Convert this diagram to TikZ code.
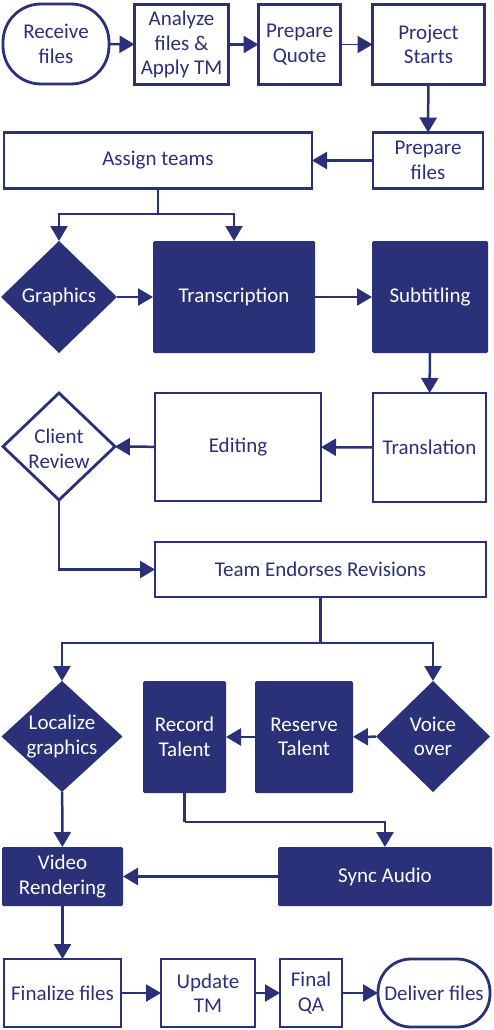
\documentclass[tikz,border=0pt]{standalone}
\usepackage{fontspec}
\setmainfont{Carlito}
\usetikzlibrary{shapes.geometric,arrows.meta}
\definecolor{navy}{RGB}{43,49,121}
\begin{document}
\begin{tikzpicture}[x=1pt,y=-1pt,
  font=\fontsize{21}{24.5}\selectfont,
  every node/.style={inner sep=0pt,outer sep=0pt,align=center},
  wbox/.style={draw=navy,line width=2.8pt,fill=white,text=navy,rectangle},
  fbox/.style={fill=navy,text=white,rectangle,rounded corners=1.5pt},
  term/.style={draw=navy,line width=2.8pt,fill=white,text=navy,rectangle,rounded corners=#1},
  wdiam/.style={draw=navy,line width=2.8pt,fill=white,diamond,aspect=1},
  fdiam/.style={fill=navy,diamond,aspect=1},
  wtext/.style={text=navy},
  ftext/.style={text=white},
  conn/.style={draw=navy,line width=2.5pt,-{Triangle[length=15pt,width=17pt]}},
  plain/.style={draw=navy,line width=2.5pt}]
\useasboundingbox (0,0) rectangle (494,1030);
% row 1
\node[term=38pt,minimum width=106pt,minimum height=80pt] (recv) at (56,44) {Receive\\files};
\node[wbox,minimum width=94pt,minimum height=80pt] (ana) at (181.5,44.5) {Analyze\\files \&\\Apply TM};
\node[wbox,minimum width=82pt,minimum height=80pt] (quote) at (299.5,44.5) {Prepare\\Quote};
\node[wbox,minimum width=112pt,minimum height=80pt] (proj) at (428.5,44.5) {Project\\Starts};
% row 2
\node[wbox,minimum width=110pt,minimum height=56pt] (prepf) at (428,160.5) {Prepare\\files};
\node[wbox,minimum width=308pt,minimum height=56pt] (assign) at (158,160.5) {Assign teams};
% row 3
\node[fdiam,minimum width=116pt,minimum height=112pt] (graph) at (59,297) {};
\node[ftext] (grapht) at (graph) {Graphics};
\node[fbox,minimum width=162pt,minimum height=112pt] (trans) at (234,297) {Transcription};
\node[fbox,minimum width=116pt,minimum height=112pt] (subt) at (430,297) {Subtitling};
% row 4
\node[wbox,minimum width=113pt,minimum height=109pt] (transl) at (429.5,447.5) {Translation};
\node[wbox,minimum width=166pt,minimum height=108pt] (edit) at (238,447) {Editing};
\node[wdiam,minimum width=112pt,minimum height=107pt] (client) at (59,446.5) {};
\node[wtext] (clientt) at (59,449) {Client\\Review};
% row 5
\node[wbox,minimum width=331pt,minimum height=55pt] (team) at (320.5,569.5) {Team Endorses Revisions};
% row 6
\node[fdiam,minimum width=121pt,minimum height=111pt] (local) at (62,736.5) {};
\node[ftext] (localt) at (local) {Localize\\graphics};
\node[fbox,minimum width=83pt,minimum height=112pt] (record) at (184.5,737) {Record\\Talent};
\node[fbox,minimum width=98pt,minimum height=112pt] (reserve) at (304,737) {Reserve\\Talent};
\node[fdiam,minimum width=114pt,minimum height=111pt] (voice) at (433,736.5) {};
\node[ftext] (voicet) at (voice) {Voice\\over};
% row 7
\node[fbox,minimum width=121pt,minimum height=59pt] (video) at (62.5,876.5) {Video\\Rendering};
\node[fbox,minimum width=214pt,minimum height=59pt] (sync) at (385,876.5) {Sync Audio};
% row 8
\node[wbox,minimum width=117pt,minimum height=68pt] (final) at (62.5,993) {Finalize files};
\node[wbox,minimum width=94pt,minimum height=68pt] (update) at (208,993) {Update\\TM};
\node[wbox,minimum width=62pt,minimum height=68pt] (qa) at (311,993) {Final\\QA};
\node[term=33pt,minimum width=112pt,minimum height=68pt] (deliver) at (434,993) {Deliver files};
% connectors
\draw[conn] (recv) -- (ana);
\draw[conn] (ana) -- (quote);
\draw[conn,line width=1.8pt] (quote) -- (proj);
\draw[conn] (proj) -- (prepf);
\draw[conn] (prepf) -- (assign);
\coordinate (j1) at (158,214);
\draw[plain] (assign.south) -- (j1);
\draw[conn] (j1) -| (graph.north);
\draw[conn] (j1) -| (trans.north);
\draw[conn] (graph) -- (trans);
\draw[conn] (trans) -- (subt);
\draw[conn] (subt) -- (transl);
\draw[conn] (transl) -- (edit);
\draw[conn] (edit) -- (client);
\draw[conn] (client.south) |- (team.west);
\coordinate (j2) at (320.5,643);
\draw[plain] (team.south) -- (j2);
\draw[conn] (j2) -| (local.north);
\draw[conn] (j2) -| (voice.north);
\draw[conn] (voice) -- (reserve);
\draw[conn] (reserve) -- (record);
\coordinate (j3) at (184.5,822);
\draw[plain] (record.south) -- (j3);
\draw[conn] (j3) -| (sync.north);
\draw[conn] (local) -- (video);
\draw[conn] (sync) -- (video);
\draw[conn] (video) -- (final);
\draw[conn] (final) -- (update);
\draw[conn] (update) -- (qa);
\draw[conn] (qa) -- (deliver);
\end{tikzpicture}
\end{document}
